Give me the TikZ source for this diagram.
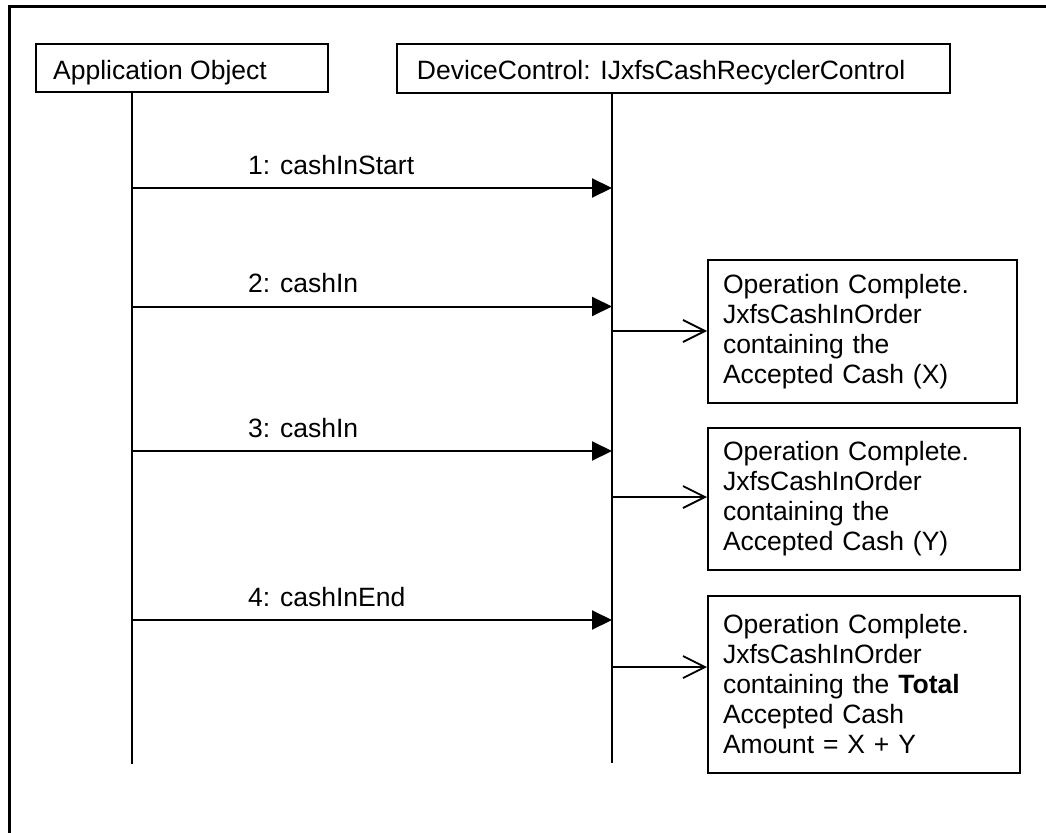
\documentclass[tikz,border=0pt]{standalone}
\usepackage{fontspec}
\setmainfont{Liberation Sans}
\usetikzlibrary{arrows.meta}
\begin{document}
\begin{tikzpicture}[x=1pt,y=-1pt,
  every node/.style={font=\fontsize{26.5pt}{30pt}\selectfont},
  hbox/.style={draw, line width=2pt, inner sep=0pt, anchor=north west},
  note/.style={draw, line width=2pt, anchor=north west, align=left, inner xsep=15pt, inner ysep=0pt},
  lbl/.style={inner sep=0pt, anchor=base west},
  life/.style={line width=2pt},
  msg/.style={line width=2pt, -{Triangle[length=20pt,width=19pt]}},
  resp/.style={line width=1.8pt, -{Straight Barb[length=22pt,width=22pt,line width=1.8pt]}},
]
\useasboundingbox (0,0) rectangle (1046,832);
\fill[white] (0,0) rectangle (1046,832);
% outer frame (cropped at right and bottom)
\draw[line width=2.7pt] (9.5,845) -- (9.5,6.5) -- (1055,6.5);

% header boxes
\node[hbox, minimum width=292pt, minimum height=48pt] (app) at (35,43) {};
\node[lbl] (apptxt) at (53,80) {Application Object};
\node[hbox, minimum width=553pt, minimum height=49pt] (dev) at (396,43) {};
\node[lbl] (devtxt) at (416.7,80) {DeviceControl: IJxfsCashRecyclerControl};

% lifelines
\coordinate (a0) at (132,91);
\coordinate (a1) at (132,764);
\coordinate (d0) at (612,92);
\coordinate (d1) at (612,763);
\draw[life] (a0) -- (a1);
\draw[life] (d0) -- (d1);

% messages
\coordinate (m1a) at (132,188);   \coordinate (m1b) at (612,188);
\coordinate (m2a) at (132,306.5); \coordinate (m2b) at (612,306.5);
\coordinate (m3a) at (132,451);   \coordinate (m3b) at (612,451);
\coordinate (m4a) at (132,620);   \coordinate (m4b) at (612,620);
\draw[msg] (m1a) -- (m1b);
\draw[msg] (m2a) -- (m2b);
\draw[msg] (m3a) -- (m3b);
\draw[msg] (m4a) -- (m4b);
\node[lbl] (m1l) at (248,174) {1: cashInStart};
\node[lbl] (m2l) at (248,292.5) {2: cashIn};
\node[lbl] (m3l) at (248,437) {3: cashIn};
\node[lbl] (m4l) at (248,606) {4: cashInEnd};

% notes
\node[note, text width=279pt, minimum height=143pt] (n1) at (707,259)
  {Operation Complete.\\JxfsCashInOrder\\containing the\\Accepted Cash (X)};
\node[note, text width=282pt, minimum height=142pt] (n2) at (707,427)
  {Operation Complete.\\JxfsCashInOrder\\containing the\\Accepted Cash (Y)};
\node[note, text width=282pt, minimum height=177pt] (n3) at (707,595)
  {Operation Complete.\\JxfsCashInOrder\\containing the \textbf{Total}\\Accepted Cash\\Amount = X + Y};

% responses
\coordinate (r1) at (612,331);
\coordinate (r2) at (612,497);
\coordinate (r3) at (612,667);
\draw[resp] (r1) -- (r1 -| n1.west);
\draw[resp] (r2) -- (r2 -| n2.west);
\draw[resp] (r3) -- (r3 -| n3.west);
\end{tikzpicture}
\end{document}
